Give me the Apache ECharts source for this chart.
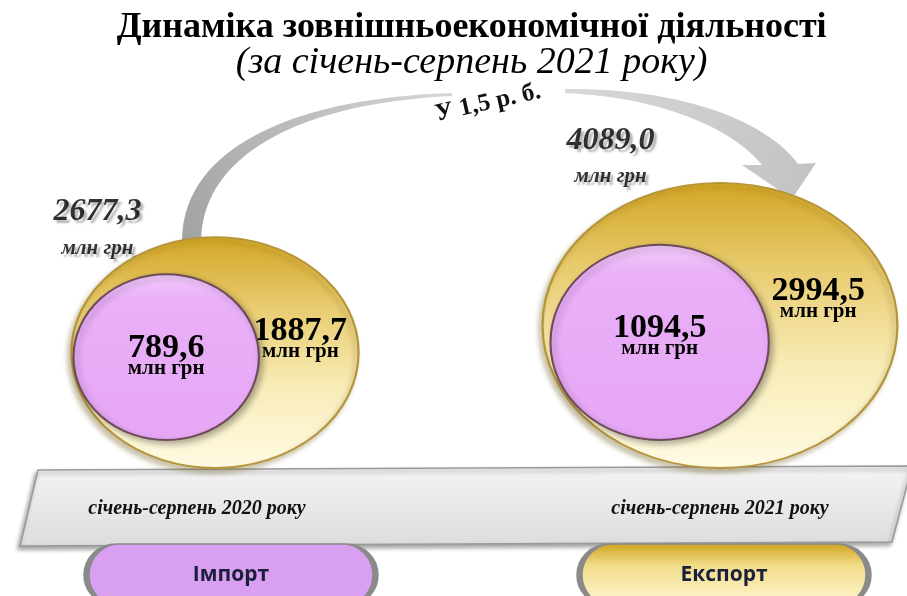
<!DOCTYPE html>
<html>
<head>
<meta charset="utf-8">
<script src="https://cdn.jsdelivr.net/npm/echarts@6/dist/echarts.min.js"></script>
<style>
html, body { margin: 0; padding: 0; background: #fff; }
#chart { width: 907px; height: 596px; }
</style>
</head>
<body>
<div id="chart"></div>
<script>
// Дані
const periods = ['січень-серпень 2020 року', 'січень-серпень 2021 року'];
const importValues = [789.6, 1094.5];
const exportValues = [1887.7, 2994.5];
const totalValues = [2677.3, 4089.0];
const legendNames = ['Імпорт', 'Експорт'];
const growthLabel = 'У 1,5 р. б.';
const unitLabel = 'млн грн';

// Кольори
const colors = {
    pinkBorder: '#6e4b58',
    goldBorder: '#b5943a',
    pill: '#d99ff0',
    pillBorder: '#8a8a8a',
    text: '#000',
    pillText: '#1a1f3a'
};

// Зсуви підписів та фігур (відносно центрів категорій)
const goldShift = [-2, -1];
const pillShift = [14, 3];
const totalLabelPos = [[26, -7], [68, -24]];
const exportLabelPos = [['79.5%', '44%'], ['77.5%', '40.5%']];
const pinkLabelShift = [-2, -7];

const serif = 'Liberation Serif, DejaVu Serif, serif';

function fmt(v) {
    return v.toFixed(1).replace('.', ',');
}

function goldSize(v) {
    return [5.55 * Math.sqrt(v), 4.46 * Math.sqrt(v)];
}

function pinkSize(v) {
    return [6.6 * Math.sqrt(v), 5.9 * Math.sqrt(v)];
}

// точки кубічної кривої Безьє (для декоративної стрілки)
function bez(p0, p1, p2, p3, n) {
    const pts = [];
    for (let k = 0; k <= n; k++) {
        const t = k / n, u = 1 - t;
        pts.push([
            u * u * u * p0[0] + 3 * u * u * t * p1[0] + 3 * u * t * t * p2[0] + t * t * t * p3[0],
            u * u * u * p0[1] + 3 * u * u * t * p1[1] + 3 * u * t * t * p2[1] + t * t * t * p3[1]
        ]);
    }
    return pts;
}

const arrowLeft = bez([182, 241], [182, 150], [290, 98], [452, 93], 30)
    .concat(bez([452, 96], [300, 103], [202, 155], [201, 241], 30));
const arrowRight = bez([565, 89], [690, 88], [770, 125], [798, 164], 30)
    .concat([[816, 163], [792, 199], [742, 165]])
    .concat(bez([762, 165], [735, 132], [670, 98], [565, 93], 30));

const goldGradient = new echarts.graphic.LinearGradient(0, 0, 0, 1, [
    { offset: 0, color: '#d2a524' },
    { offset: 0.3, color: '#e8cb6e' },
    { offset: 0.65, color: '#f8ecb8' },
    { offset: 1, color: '#fffbe4' }
]);
const pinkGradient = new echarts.graphic.LinearGradient(0, 0, 0, 1, [
    { offset: 0, color: '#f3cdfb' },
    { offset: 0.15, color: '#eab0f8' },
    { offset: 1, color: '#e6a6f5' }
]);
const pillGold = new echarts.graphic.LinearGradient(0, 0, 0, 1, [
    { offset: 0, color: '#cfa21c' },
    { offset: 0.35, color: '#f1dc8a' },
    { offset: 1, color: '#fff7d2' }
]);

const goldData = totalValues.map((v, i) => {
    const s = goldSize(v);
    return {
        value: [i, 0],
        symbolSize: s,
        symbolOffset: [goldShift[i], -s[1] / 2],
        label: { position: exportLabelPos[i] }
    };
});

const pinkData = importValues.map((v, i) => {
    const s = pinkSize(v);
    const g = goldSize(totalValues[i]);
    return {
        value: [i, 0],
        symbolSize: s,
        symbolOffset: [goldShift[i] - 0.17 * g[0], -28 - s[1] / 2],
        label: { offset: [0, pinkLabelShift[i]] }
    };
});

const totalData = totalValues.map((v, i) => {
    const s = goldSize(v);
    return {
        value: [i, 0],
        symbolSize: s,
        symbolOffset: [goldShift[i], -s[1] / 2],
        label: { position: totalLabelPos[i] }
    };
});

const pillData = legendNames.map((n, i) => ({
    value: [i, 0],
    symbolOffset: [pillShift[i], 107],
    itemStyle: { color: i === 0 ? colors.pill : pillGold }
}));

const shadowText = {
    textShadowColor: 'rgba(0,0,0,0.35)',
    textShadowBlur: 2,
    textShadowOffsetX: 3,
    textShadowOffsetY: 3
};

const innerRich = {
    num: { fontFamily: serif, fontWeight: 'bold', fontSize: 34, lineHeight: 26, color: colors.text },
    unit: { fontFamily: serif, fontWeight: 'bold', fontSize: 21, lineHeight: 14, color: colors.text }
};

const chart = echarts.init(document.getElementById('chart'));

const option = {
    animation: false,
    backgroundColor: '#fff',
    title: {
        text: 'Динаміка зовнішньоекономічної діяльності',
        subtext: '(за січень-серпень 2021 року)',
        left: '52%',
        textAlign: 'center',
        top: 10,
        itemGap: 0,
        padding: 0,
        textStyle: {
            fontFamily: serif,
            fontWeight: 'bold',
            fontSize: 36,
            lineHeight: 36,
            color: colors.text
        },
        subtextStyle: {
            fontFamily: serif,
            fontStyle: 'italic',
            fontSize: 38,
            lineHeight: 34,
            color: colors.text
        }
    },
    grid: {
        left: 217,
        right: 186,
        top: 100,
        bottom: 128
    },
    xAxis: {
        type: 'category',
        data: periods,
        boundaryGap: false,
        axisLine: { show: false },
        axisTick: { show: false },
        splitLine: { show: false },
        axisLabel: {
            interval: 0,
            margin: 31,
            formatter: (v, i) => (i === 0 ? '{l|' + v + '}' : '{r|' + v + '}'),
            rich: {
                l: {
                    fontFamily: serif, fontStyle: 'italic', fontWeight: 'bold',
                    fontSize: 20, color: '#111', padding: [0, 40, 0, 0]
                },
                r: {
                    fontFamily: serif, fontStyle: 'italic', fontWeight: 'bold',
                    fontSize: 20, color: '#111', padding: [0, 2, 0, 0]
                }
            }
        }
    },
    yAxis: {
        type: 'value',
        min: 0,
        max: 1,
        show: false
    },
    graphic: [
        // платформа
        {
            type: 'polygon',
            z: 0,
            shape: { points: [[38, 470], [912, 466], [892, 542], [20, 546]] },
            style: {
                fill: new echarts.graphic.LinearGradient(0, 0, 0, 1, [
                    { offset: 0, color: '#f4f4f4' },
                    { offset: 1, color: '#dcdcdc' }
                ]),
                stroke: '#9a9a9a',
                lineWidth: 1.5,
                shadowBlur: 4,
                shadowColor: 'rgba(0,0,0,0.35)',
                shadowOffsetX: -2,
                shadowOffsetY: 3
            }
        },
        // стрілка, ліва частина
        {
            type: 'polygon',
            z: 0,
            shape: { points: arrowLeft },
            style: {
                fill: new echarts.graphic.LinearGradient(0, 1, 1, 0, [
                    { offset: 0, color: '#a2a2a2' },
                    { offset: 1, color: '#d6d6d6' }
                ])
            }
        },
        // стрілка, права частина
        {
            type: 'polygon',
            z: 0,
            shape: { points: arrowRight },
            style: {
                fill: new echarts.graphic.LinearGradient(0, 0, 1, 1, [
                    { offset: 0, color: '#d8d8d8' },
                    { offset: 1, color: '#c2c2c2' }
                ])
            }
        },
        {
            type: 'text',
            z: 5,
            x: 488,
            y: 103,
            rotation: 0.22,
            style: {
                text: growthLabel,
                font: 'bold 25px "Liberation Serif", serif',
                fill: '#111',
                align: 'center',
                verticalAlign: 'middle'
            }
        }
    ],
    series: [
        {
            name: 'Експорт',
            type: 'scatter',
            clip: false,
            z: 3,
            symbol: 'circle',
            data: goldData,
            itemStyle: {
                color: goldGradient,
                opacity: 1,
                borderColor: colors.goldBorder,
                borderWidth: 2,
                shadowColor: 'rgba(110,90,20,0.35)',
                shadowBlur: 5,
                shadowOffsetX: -3,
                shadowOffsetY: 4
            },
            label: {
                show: true,
                align: 'center',
                verticalAlign: 'middle',
                formatter: (p) => '{num|' + fmt(exportValues[p.dataIndex]) + '}\n{unit|' + unitLabel + '}',
                rich: innerRich
            },
            emphasis: { disabled: true }
        },
        {
            name: 'Імпорт',
            type: 'scatter',
            clip: false,
            z: 4,
            symbol: 'circle',
            data: pinkData,
            itemStyle: {
                color: pinkGradient,
                opacity: 1,
                borderColor: colors.pinkBorder,
                borderWidth: 2,
                shadowColor: 'rgba(0,0,0,0.3)',
                shadowBlur: 6,
                shadowOffsetX: 3,
                shadowOffsetY: 3
            },
            label: {
                show: true,
                position: 'inside',
                formatter: (p) => '{num|' + fmt(importValues[p.dataIndex]) + '}\n{unit|' + unitLabel + '}',
                rich: innerRich
            },
            emphasis: { disabled: true }
        },
        {
            name: 'Обсяг',
            type: 'scatter',
            clip: false,
            z: 5,
            symbol: 'circle',
            data: totalData,
            itemStyle: { color: 'transparent' },
            label: {
                show: true,
                align: 'center',
                verticalAlign: 'middle',
                formatter: (p) => '{num|' + fmt(totalValues[p.dataIndex]) + '}\n{unit|' + unitLabel + '}',
                rich: {
                    num: Object.assign({ fontFamily: serif, fontStyle: 'italic', fontWeight: 'bold', fontSize: 32, lineHeight: 36, color: colors.text }, shadowText),
                    unit: Object.assign({ fontFamily: serif, fontStyle: 'italic', fontWeight: 'bold', fontSize: 21, lineHeight: 36, color: colors.text }, shadowText)
                }
            },
            emphasis: { disabled: true }
        },
        {
            name: 'Легенда',
            type: 'scatter',
            clip: false,
            z: 5,
            symbol: 'path://M31,0 H258 A31,31 0 0 1 258,62 H31 A31,31 0 0 1 31,0 Z',
            symbolSize: [289, 62],
            data: pillData,
            itemStyle: {
                opacity: 1,
                borderColor: colors.pillBorder,
                borderWidth: 3
            },
            label: {
                show: true,
                position: 'inside',
                formatter: (p) => legendNames[p.dataIndex],
                fontFamily: 'Open Sans, DejaVu Sans, sans-serif',
                fontWeight: 'bold',
                fontSize: 21,
                color: colors.pillText
            },
            emphasis: { disabled: true }
        }
    ]
};

chart.setOption(option);

window.addEventListener('resize', () => {
    chart.resize();
});
</script>
</body>
</html>
